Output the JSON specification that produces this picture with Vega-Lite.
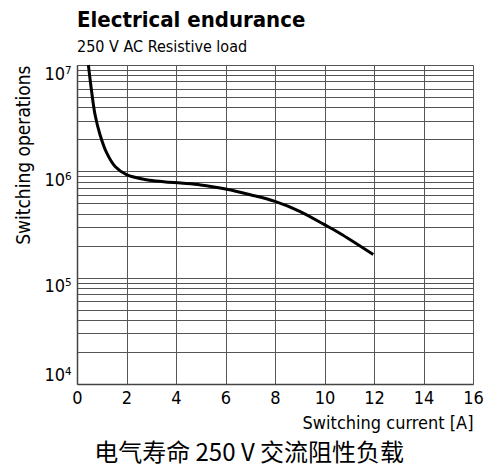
{
  "$schema": "https://vega.github.io/schema/vega-lite/v6.json",
  "padding": {"left": 14, "right": 2, "top": 9, "bottom": 0},
  "background": "white",
  "title": {"text": "电气寿命 250 V 交流阻性负载", "orient": "bottom", "anchor": "middle", "font": "Noto Sans CJK SC", "fontSize": 24, "fontWeight": "normal", "color": "black", "offset": 10},
  "config": {
    "view": {"stroke": null},
    "font": "DejaVu Sans Condensed, DejaVu Sans, sans-serif"
  },
  "vconcat": [
    {
      "title": {"text": "Electrical endurance", "subtitle": "250 V AC Resistive load", "anchor": "start", "frame": "group", "font": "DejaVu Sans Condensed, DejaVu Sans, sans-serif", "fontSize": 22, "fontWeight": "bold", "color": "black", "subtitleFont": "DejaVu Sans Condensed, DejaVu Sans, sans-serif", "subtitleFontSize": 16, "subtitleColor": "black", "subtitlePadding": 7, "offset": 3},
      "width": 396,
      "height": 319,
      "data": {"values": [
        {"current": 0.46, "ops": 10000000},
        {"current": 0.59, "ops": 5660000},
        {"current": 0.73, "ops": 3400000},
        {"current": 0.93, "ops": 2210000},
        {"current": 1.2, "ops": 1490000},
        {"current": 1.54, "ops": 1110000},
        {"current": 2.0, "ops": 930000},
        {"current": 2.81, "ops": 834000},
        {"current": 3.5, "ops": 800000},
        {"current": 4.2, "ops": 775000},
        {"current": 5.0, "ops": 745000},
        {"current": 6.0, "ops": 681000},
        {"current": 7.0, "ops": 603000},
        {"current": 8.0, "ops": 522000},
        {"current": 9.0, "ops": 421000},
        {"current": 10.0, "ops": 315000},
        {"current": 10.6, "ops": 263000},
        {"current": 11.97, "ops": 165000}
      ]},
      "mark": {"type": "line", "color": "black", "strokeWidth": 3, "interpolate": "catmull-rom"},
      "encoding": {
        "x": {
          "field": "current", "type": "quantitative",
          "scale": {"domain": [0, 16], "nice": false},
          "axis": {
            "title": "Switching current [A]", "titleAnchor": "end", "titleFontSize": 18, "titleFontWeight": "normal", "titleColor": "black", "titlePadding": 7,
            "values": [0, 2, 4, 6, 8, 10, 12, 14, 16],
            "labelFontSize": 18, "labelColor": "black", "labelPadding": 5, "labelFlush": false,
            "ticks": false, "domainColor": "#444", "domainWidth": 1.5,
            "grid": true, "gridColor": "#555", "gridWidth": 1, "gridOpacity": 1
          }
        },
        "y": {
          "field": "ops", "type": "quantitative",
          "scale": {"type": "log", "domain": [10000, 10000000], "nice": false},
          "axis": {
            "title": "Switching operations", "titleAnchor": "end", "titleFontSize": 19, "titleFontWeight": "normal", "titleColor": "black", "titlePadding": 10,
            "values": [10000, 20000, 30000, 40000, 50000, 60000, 70000, 80000, 90000, 100000, 200000, 300000, 400000, 500000, 600000, 700000, 800000, 900000, 1000000, 2000000, 3000000, 4000000, 5000000, 6000000, 7000000, 8000000, 9000000, 10000000],
            "labelExpr": "datum.value == 10000 ? '10⁴' : datum.value == 100000 ? '10⁵' : datum.value == 1000000 ? '10⁶' : datum.value == 10000000 ? '10⁷' : ''",
            "labelBaseline": {"condition": {"test": "datum.value == 10000", "value": "bottom"}, "value": "top"},
            "labelFlush": false,
            "labelFontSize": 18, "labelColor": "black", "labelPadding": 6,
            "ticks": false, "domainColor": "#444", "domainWidth": 1.5,
            "grid": true, "gridColor": "#555", "gridWidth": 1, "gridOpacity": 1
          }
        }
      }
    }
  ]
}
